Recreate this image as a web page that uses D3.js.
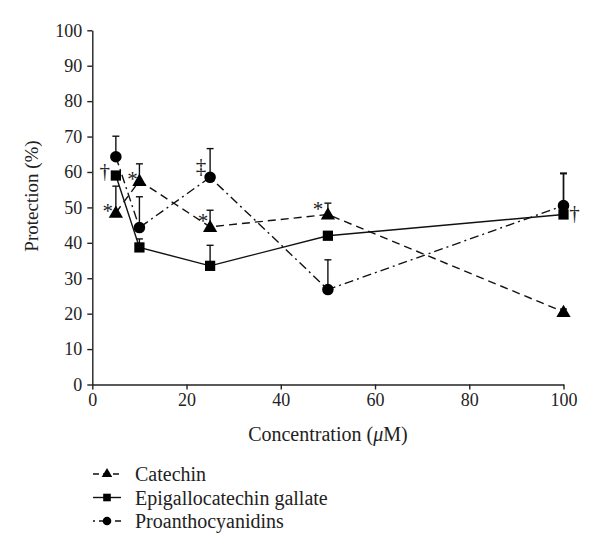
<!DOCTYPE html>
<html><head><meta charset="utf-8">
<script src="https://cdn.jsdelivr.net/npm/d3@7"></script>
<style>body{margin:0;background:#fff}svg{display:block}</style>
</head><body><div id="chart"></div>
<script>
const concentrations = [5, 10, 25, 50, 100];
const catechin = [48.5, 57.5, 44.5, 48, 20.5];
const catechinErr = [7.5, 4.8, 4.7, 3.2, 0.8];
const egcg = [59, 38.7, 33.5, 42, 48];
const egcgErr = [0, 2.4, 5.8, 0, 11.5];
const proanth = [64.3, 44.3, 58.5, 26.8, 50.5];
const proanthErr = [5.8, 8.7, 8.1, 8.4, 9.2];
const xTicks = [0, 20, 40, 60, 80, 100];
const yTicks = [0,10,20,30,40,50,60,70,80,90,100];
const annotations = [
  {x:5, y:59, t:"†", dx:-11, dy:-4},
  {x:5, y:48.5, t:"*", dx:-8, dy:-7},
  {x:10, y:57.5, t:"*", dx:-7, dy:-7},
  {x:25, y:58.5, t:"‡", dx:-9, dy:-10},
  {x:25, y:44.5, t:"*", dx:-7, dy:-11},
  {x:50, y:48, t:"*", dx:-10, dy:-10},
  {x:100, y:48, t:"†", dx:11, dy:0}
];

const FONT = "'Liberation Serif', 'Times New Roman', serif";
const W = 600, H = 553;
const svg = d3.select("#chart").append("svg").attr("width", W).attr("height", H)
  .style("font-family", FONT);
const x = d3.scaleLinear().domain([0,100]).range([92.3, 563.5]);
const y = d3.scaleLinear().domain([0,100]).range([384.5, 30.3]);

// axes
const yAxis = d3.axisLeft(y).tickValues(yTicks).tickSize(5).tickSizeOuter(0).tickPadding(5);
const gy = svg.append("g").attr("transform", `translate(${x(0)},0)`).call(yAxis);
const xAxis = d3.axisBottom(x).tickValues(xTicks).tickSize(5).tickSizeOuter(0).tickPadding(4);
const gx = svg.append("g").attr("transform", `translate(0,${y(0)})`).call(xAxis);
[gx, gy].forEach(g => {
  g.attr("font-size", null).attr("font-family", null);
  g.select(".domain").attr("stroke", "#222").attr("stroke-width", 1.4);
  g.selectAll(".tick line").attr("stroke", "#222").attr("stroke-width", 1.4);
  g.selectAll(".tick text").attr("fill", "#222").style("font-family", FONT).style("font-size", "18px");
});

svg.append("text").attr("transform", `translate(38,196) rotate(-90)`)
  .attr("text-anchor", "middle").style("font-family", FONT).style("font-size", "19px").attr("fill","#222")
  .text("Protection (%)");
svg.append("text").attr("x", (x(0)+x(100))/2).attr("y", 441).attr("text-anchor","middle")
  .style("font-family", FONT).style("font-size", "20px").attr("fill","#222")
  .html('Concentration (<tspan font-style="italic">μ</tspan>M)');

const series = [
  {name:"Catechin", v:catechin, e:catechinErr, dash:"8,5", sym:d3.symbolTriangle, size:88, ldash:"6,4"},
  {name:"Epigallocatechin gallate", v:egcg, e:egcgErr, dash:null, sym:d3.symbolSquare, size:105, ldash:null},
  {name:"Proanthocyanidins", v:proanth, e:proanthErr, dash:"9,4,2,4", sym:d3.symbolCircle, size:105, ldash:"2,4,6,4,2,4,6"}
];

const line = d3.line().x(d => x(d[0])).y(d => y(d[1]));
series.forEach(s => {
  const pts = concentrations.map((c,i) => [c, s.v[i], s.e[i]]);
  svg.append("path").datum(pts).attr("d", line).attr("fill","none")
    .attr("stroke","#111").attr("stroke-width",1.4).attr("stroke-dasharray", s.dash);
  const eb = svg.append("g");
  pts.filter(p => p[2] > 0).forEach(p => {
    eb.append("line").attr("x1",x(p[0])).attr("x2",x(p[0])).attr("y1",y(p[1])).attr("y2",y(p[1]+p[2]))
      .attr("stroke","#111").attr("stroke-width",1.4);
    eb.append("line").attr("x1",x(p[0])-3.5).attr("x2",x(p[0])+3.5).attr("y1",y(p[1]+p[2])).attr("y2",y(p[1]+p[2]))
      .attr("stroke","#111").attr("stroke-width",1.4);
  });
  svg.append("g").selectAll("path").data(pts).join("path")
    .attr("d", d3.symbol().type(s.sym).size(s.size))
    .attr("transform", d => `translate(${x(d[0])},${y(d[1]) + (s.sym === d3.symbolTriangle ? 1 : 0)})`)
    .attr("fill","#000");
});

svg.append("g").selectAll("text").data(annotations).join("text")
  .attr("x", d => x(d.x)+d.dx)
  .attr("y", d => y(d.y)+d.dy + (d.t === "*" ? 12 : 6))
  .attr("text-anchor","middle").style("font-family", FONT).style("font-size", "21px")
  .attr("fill","#222").text(d => d.t);

// legend
const lg = svg.append("g");
series.forEach((s,i) => {
  const ly = 474 + i*23.5;
  lg.append("line").attr("x1",93).attr("x2",121).attr("y1",ly).attr("y2",ly)
    .attr("stroke","#111").attr("stroke-width",1.4)
    .attr("stroke-dasharray", s.ldash);
  lg.append("path").attr("d", d3.symbol().type(s.sym).size(s.size*0.55)).attr("transform",`translate(107,${ly})`).attr("fill","#000");
  lg.append("text").attr("x",135).attr("y",ly).attr("dy","0.35em")
    .style("font-family", FONT).style("font-size","20px").attr("fill","#222").text(s.name);
});
</script></body></html>
